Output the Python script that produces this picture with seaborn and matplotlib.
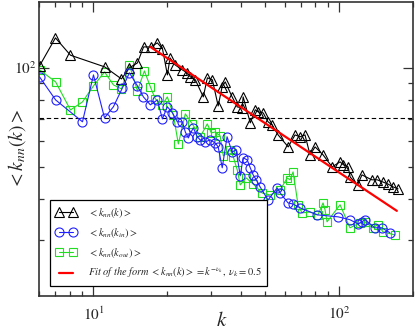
import matplotlib
matplotlib.use("Agg")
import matplotlib.pyplot as plt
import seaborn as sns
import pandas as pd
from matplotlib.ticker import FixedLocator, LogLocator, NullFormatter, FixedFormatter
from matplotlib.lines import Line2D

# ---- data ----
k_all = [6.03, 7.0, 8.06, 11.1, 13.0, 14.0, 15.1, 16.0, 17.1, 18.2, 19.1, 20.0, 20.5, 21.5,
         23.0, 24.1, 24.8, 26.0, 28.0, 29.1, 30.5, 32.2, 33.4, 34.4, 36.7, 38.5, 40.3, 40.7,
         43.5, 45.6, 46.9, 49.1, 51.4, 53.4, 56.5, 62.1, 66.2, 69.4, 72.7, 76.2, 79.9, 86.1,
         93.7, 101, 104, 109, 111, 119, 124, 136, 143, 151, 158, 166, 174]
knn_all = [101.2, 123, 109, 100.5, 92.4, 99.8, 103.3, 115.5, 115.5, 118.8, 114, 95, 107, 101.9,
           98.4, 96.4, 93.7, 91.8, 81.5, 93.1, 91.8, 76.5, 87.4, 90.5, 81.5, 76.0, 75.5, 81.5,
           68.0, 74.5, 73.4, 72.9, 68.5, 67.0, 62.5, 57.5, 62.5, 61.7, 62.5, 54.4, 57.5, 54.4,
           50.0, 51.8, 50.8, 50.0, 46.6, 44.1, 47.3, 45.7, 45.7, 45.0, 44.4, 43.5, 42.9]

k_in = [6.03, 7.01, 9.02, 10.0, 11.09, 12.06, 13.12, 14.01, 15.10, 15.97, 17.05, 18.20, 19.08,
        19.99, 20.95, 21.95, 23.0, 23.66, 24.33, 25.5, 26.47, 27.2, 28.5, 29.9, 31.3, 32.2,
        33.45, 35.0, 36.7, 38.1, 39.6, 40.7, 42.3, 43.5, 44.7, 46.0, 47.7, 51.4, 56.0, 57.6,
        62.0, 65.0, 69.4, 81.4, 99.1, 110.8, 119.5, 124, 127.6, 140, 149.5, 161]
knn_in = [93.7, 79.8, 68.5, 95.0, 70.4, 76.1, 86.8, 96.4, 88.0, 81.5, 77.1, 79.8, 69.9,
          76.1, 73.0, 68.5, 68.5, 63.8, 61.2, 65.7, 61.7, 60.4, 59.5, 60.4, 59.1, 57.5,
          49.7, 61.7, 55.5, 56.3, 47.0, 53.3, 52.5, 49.7, 47.3, 45.7, 43.5, 39.7, 43.2, 41.7,
          38.9, 38.6, 37.6, 35.8, 35.3, 34.6, 33.6, 34.1, 34.6, 32.7, 32.7, 31.6]

k_out = [6.03, 7.01, 8.06, 9.02, 10.0, 11.09, 12.06, 13.0, 14.01, 15.10, 16.12, 17.05, 17.86,
         19.08, 19.99, 21.15, 22.16, 23.66, 25.26, 27.2, 29.07, 30.2, 31.3, 32.8, 33.8, 36.1,
         37.1, 38.5, 39.6, 41.9, 44.7, 48.6, 52.4, 57.6, 61.5, 63.2, 65.0, 68.1, 70.7, 76.2,
         82.1, 86.1, 87.7, 89.4, 101, 110.8, 121.7, 127.6, 137.4, 144, 151, 169]
knn_out = [98.4, 90.5, 74.4, 78.7, 88.0, 97.0, 88.6, 86.2, 101.9, 85.0, 97.7, 87.4, 80.4,
           77.1, 81.5, 71.9, 58.7, 72.4, 67.5, 61.7, 67.5, 63.4, 63.8, 62.1, 54.0, 56.3,
           53.6, 49.0, 44.1, 46.3, 44.4, 41.7, 41.1, 42.6, 46.3, 45.7, 48.3, 38.4, 36.3, 36.5,
           35.8, 38.9, 37.1, 34.1, 38.4, 32.7, 33.8, 34.1, 32.7, 33.4, 31.8, 31.1]

fit_k = [17.05, 172.0]
fit_knn = [115.5, 36.8]
mean_level = 70.4

x_ticks = [10, 100]
x_tick_labels = [r"$10^{1}$", r"$10^{2}$"]
y_ticks = [100]
y_tick_labels = [r"$10^{2}$"]

labels = [r"$<k_{nn}(k)>$", r"$<k_{nn}(k_{in})>$", r"$<k_{nn}(k_{out})>$",
          r"$\mathit{Fit\ of\ the\ form}\ <k_{nn}(k)>=k^{-\nu_k},\ \nu_k=\mathit{0.5}$"]

# ---- style ----
sns.set_style("ticks")
plt.rcParams['font.family'] = ['Liberation Serif', 'DejaVu Serif']
plt.rcParams['mathtext.fontset'] = 'stix'

fig = plt.figure(figsize=(4.15, 3.32), dpi=100)
ax = fig.add_axes([0.094, 0.108, 0.901, 0.886])

blue = '#2020ff'
green = '#22dd22'

sns.lineplot(x=k_all, y=knn_all, ax=ax, estimator=None, sort=False, color='black',
             linewidth=0.8, marker='^', markersize=7, markerfacecolor='none',
             markeredgecolor='black', markeredgewidth=0.8, label=labels[0], zorder=3)
sns.lineplot(x=k_in, y=knn_in, ax=ax, estimator=None, sort=False, color=blue,
             linewidth=0.8, marker='o', markersize=6.5, markerfacecolor='none',
             markeredgecolor=blue, markeredgewidth=0.8, label=labels[1], zorder=3)
sns.lineplot(x=k_out, y=knn_out, ax=ax, estimator=None, sort=False, color=green,
             linewidth=0.8, marker='s', markersize=6, markerfacecolor='none',
             markeredgecolor=green, markeredgewidth=0.8, label=labels[2], zorder=2)
sns.lineplot(x=fit_k, y=fit_knn, ax=ax, estimator=None, sort=False, color='red',
             linewidth=1.6, label=labels[3], zorder=4)
ax.axhline(mean_level, color='black', linestyle='--', linewidth=0.8, dashes=(4, 2.5), zorder=1)

ax.set_xscale('log')
ax.set_yscale('log')
ax.set_xlim(6.0, 200)
ax.set_ylim(20.3, 158)

ax.xaxis.set_major_locator(FixedLocator(x_ticks))
ax.xaxis.set_major_formatter(FixedFormatter(x_tick_labels))
ax.xaxis.set_minor_locator(LogLocator(base=10, subs=range(2, 10)))
ax.xaxis.set_minor_formatter(NullFormatter())
ax.yaxis.set_major_locator(FixedLocator(y_ticks))
ax.yaxis.set_major_formatter(FixedFormatter(y_tick_labels))
ax.yaxis.set_minor_locator(LogLocator(base=10, subs=range(2, 10)))
ax.yaxis.set_minor_formatter(NullFormatter())

ax.tick_params(which='both', direction='in', top=True, right=True, color='#333333',
               width=0.9)
ax.tick_params(which='major', length=7.5, labelsize=11)
ax.tick_params(which='minor', length=3.8)
ax.tick_params(axis='x', which='major', pad=7)
ax.tick_params(axis='y', which='major', pad=2)

for sp in ax.spines.values():
    sp.set_visible(True)
    sp.set_color('#333333')
    sp.set_linewidth(1.2)

ax.set_xlabel(r"$k$", fontsize=15)
ax.set_ylabel(r"$<k_{nn}(k)>$", fontsize=14)
ax.xaxis.set_label_coords(0.489, -0.055)
ax.yaxis.set_label_coords(-0.03, 0.5)

handles = [
    Line2D([], [], color='black', lw=0.8, marker='^', ms=7, mfc='none', mec='black', mew=0.8),
    Line2D([], [], color=blue, lw=0.8, marker='o', ms=6.5, mfc='none', mec=blue, mew=0.8),
    Line2D([], [], color=green, lw=0.8, marker='s', ms=6, mfc='none', mec=green, mew=0.8),
    Line2D([], [], color='red', lw=1.6),
]
leg = ax.legend(handles, labels, loc='lower left', bbox_to_anchor=(0.029, 0.034),
                borderaxespad=0, numpoints=2, fontsize=7.5, handlelength=2.0,
                handletextpad=1.1, labelspacing=0.6, fancybox=False, framealpha=1,
                edgecolor='black', borderpad=0.55)
leg.get_frame().set_linewidth(0.9)

fig.savefig("out.png", dpi=100)
